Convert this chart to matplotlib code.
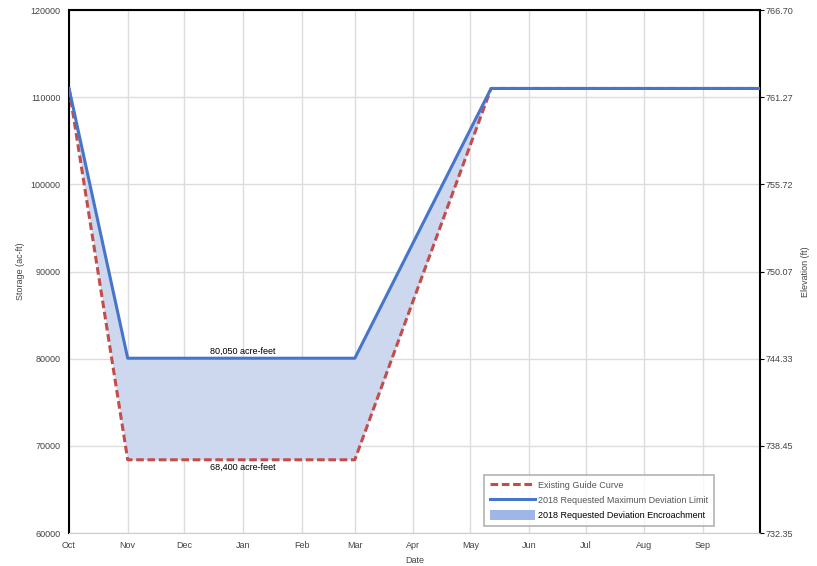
import matplotlib.pyplot as plt
import numpy as np

plt.rcParams["font.family"] = ["Liberation Sans", "DejaVu Sans"]

# 일자 = 10월 1일부터 경과 일수
month_names = ["Oct", "Nov", "Dec", "Jan", "Feb", "Mar", "Apr", "May",
               "Jun", "Jul", "Aug", "Sep"]
month_days = [0, 31, 61, 92, 123, 151, 182, 212, 243, 273, 304, 335]
year_end = 365

# 최대 편차 한계(파랑)와 기존 가이드 곡선(빨강 점선)
days = [0, 31, 151, 223, 365]
dev_limit = [111000, 80050, 80050, 111000, 111000]
guide_curve = [111000, 68400, 68400, 111000, 111000]

storage_ticks = [60000, 70000, 80000, 90000, 100000, 110000, 120000]
elev_labels = ["732.35", "738.45", "744.33", "750.07", "755.72",
               "761.27", "766.70"]

BLUE = "#4775c9"
RED = "#c24d4b"
FILL = "#cdd8ee"

fig = plt.figure(figsize=(8.17, 5.66), dpi=100)
ax = fig.add_axes([0.0845, 0.0583, 0.8455, 0.924])

h_fill = ax.fill_between(days, guide_curve, dev_limit, color=FILL, lw=0)
h_red, = ax.plot(days, guide_curve, "--", color=RED, lw=2.2,
                 dashes=(2.5, 1.2), zorder=3)
h_blue, = ax.plot(days, dev_limit, "-", color=BLUE, lw=2.2, zorder=4)

ax.text(92, dev_limit[1] + 300, "80,050 acre-feet", ha="center",
        va="bottom", fontsize=6.5)
ax.text(92, guide_curve[1] - 300, "68,400 acre-feet", ha="center",
        va="top", fontsize=6.5)

ax.set_xlim(0, year_end)
ax.set_ylim(storage_ticks[0], storage_ticks[-1])
ax.set_xticks(month_days)
ax.set_xticklabels(month_names)
ax.set_yticks(storage_ticks)
ax.grid(True, color="#dcdcdc", lw=1)
ax.set_axisbelow(True)
ax.tick_params(labelsize=6.5, labelcolor="#444444", length=0, pad=6)
ax.set_xlabel("Date", fontsize=6.5, color="#444444", labelpad=4)
ax.set_ylabel("Storage (ac-ft)", fontsize=6.5, color="#444444",
              labelpad=4)
for side in ("left", "right", "top"):
    ax.spines[side].set_color("black")
    ax.spines[side].set_linewidth(1.5)
ax.spines["bottom"].set_color("#cccccc")

ax2 = ax.twinx()
ax2.set_ylim(storage_ticks[0], storage_ticks[-1])
ax2.set_yticks(storage_ticks)
ax2.set_yticklabels(elev_labels)
ax2.tick_params(labelsize=6.5, labelcolor="#444444", length=3, pad=1)
ax2.set_ylabel("Elevation (ft)", fontsize=6.5, color="#444444",
               labelpad=6)
for sp in ax2.spines.values():
    sp.set_visible(False)

leg = ax.legend([h_red, h_blue, h_fill],
                ["Existing Guide Curve",
                 "2018 Requested Maximum Deviation Limit",
                 "2018 Requested Deviation Encroachment"],
                loc="lower right", bbox_to_anchor=(0.94, 0.005),
                fontsize=6.5, frameon=True, fancybox=False,
                edgecolor="#a0a0a0", handlelength=5, handleheight=1.4,
                labelspacing=0.5, borderpad=0.6, handletextpad=0.4)
leg.get_frame().set_linewidth(1.2)
for t in leg.get_texts()[:2]:
    t.set_color("#555555")
leg.legend_handles[2].set_color("#9fb7e6")

fig.savefig("out.png", dpi=100)
